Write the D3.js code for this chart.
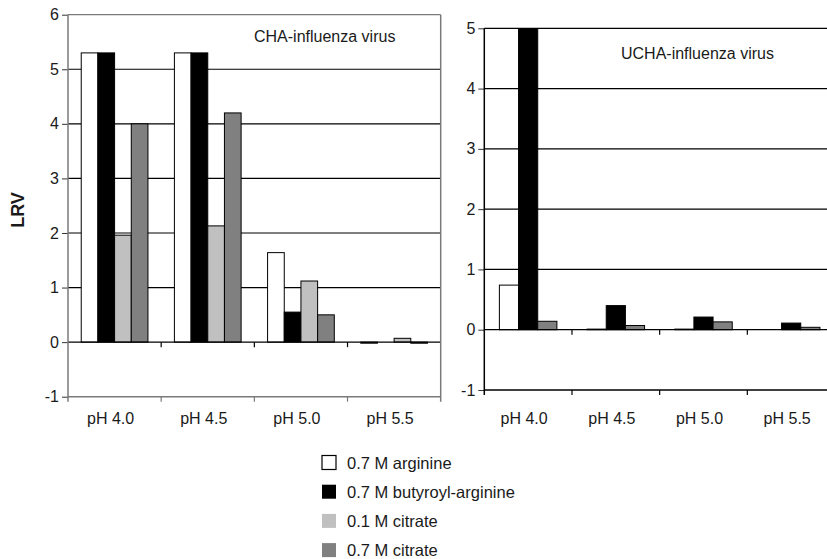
<!DOCTYPE html>
<html>
<head>
<meta charset="utf-8">
<script src="https://cdn.jsdelivr.net/npm/d3@7"></script>
<style>
  body { margin: 0; background: #fff; }
  text { font-family: "Liberation Sans", Arial, sans-serif; fill: #1a1a1a; }
</style>
</head>
<body>
<svg id="canvas" width="827" height="559"></svg>
<script>
// categories + series
let categories = ['pH 4.0', 'pH 4.5', 'pH 5.0', 'pH 5.5'];
let seriesNames = ['0.7 M arginine', '0.7 M butyroyl-arginine', '0.1 M citrate', '0.7 M citrate'];
let seriesColors = ['#ffffff', '#000000', '#c0c0c0', '#808080'];

// CHA-influenza virus (left panel)
let chaArginine = [5.3, 5.3, 1.64, -0.02];
let chaButyroyl = [5.3, 5.3, 0.55, 0];
let chaCitrate01 = [1.96, 2.13, 1.12, 0.07];
let chaCitrate07 = [4.0, 4.2, 0.5, -0.02];
let chaTicks = [-1, 0, 1, 2, 3, 4, 5, 6];

// UCHA-influenza virus (right panel), no 0.1 M citrate here
let uchaArginine = [0.74, 0.01, 0.01, 0];
let uchaButyroyl = [5.3, 0.4, 0.21, 0.11];
let uchaCitrate07 = [0.14, 0.07, 0.13, 0.04];
let uchaTicks = [-1, 0, 1, 2, 3, 4, 5];

let canvas = d3.select('#canvas');

let drawPanel = (p) => {
    let x = d3.scaleBand().domain(categories).range([p.x0, p.x1]).padding(0);
    let inner = d3.scaleBand().domain(p.series.map(s => s.name))
        .range([x.bandwidth() * p.pad, x.bandwidth() * (1 - p.pad)]).padding(0);
    let y = d3.scaleLinear().domain([p.ticks[0], p.ticks[p.ticks.length - 1]]).range([p.yBottom, p.yTop]);

    let g = canvas.append('g');

    // clip so the off-scale bar stops at the top
    g.append('clipPath').attr('id', p.id + '-clip')
        .append('rect').attr('x', p.x0).attr('y', p.yTop)
        .attr('width', p.x1 - p.x0).attr('height', p.yBottom - p.yTop);

    // gridlines (1..max)
    g.selectAll('.grid').data(p.ticks.filter(t => t > 0))
        .enter().append('line')
        .attr('x1', p.x0).attr('x2', p.x1)
        .attr('y1', d => y(d)).attr('y2', d => y(d))
        .attr('stroke', d => (d === p.ticks[p.ticks.length - 1] && p.frame) ? p.frame : '#000')
        .attr('stroke-width', 1.2);

    // bars
    let bars = g.append('g').attr('clip-path', 'url(#' + p.id + '-clip)');
    p.series.forEach((s) => {
        bars.selectAll(null).data(s.values)
            .enter().append('rect')
            .attr('x', (d, i) => x(categories[i]) + inner(s.name))
            .attr('width', inner.bandwidth())
            .attr('y', d => y(Math.max(0, d)))
            .attr('height', d => Math.abs(y(d) - y(0)))
            .attr('fill', s.color)
            .attr('stroke', '#000')
            .attr('stroke-width', 1);
    });

    let axisColor = p.frame || '#000';

    // zero line + category ticks
    g.append('line').attr('x1', p.x0).attr('x2', p.x1)
        .attr('y1', y(0)).attr('y2', y(0)).attr('stroke', '#000').attr('stroke-width', 1.2);
    // bottom line at -1
    g.append('line').attr('x1', p.x0).attr('x2', p.x1)
        .attr('y1', y(p.ticks[0])).attr('y2', y(p.ticks[0])).attr('stroke', axisColor).attr('stroke-width', 1.5);

    let bounds = categories.slice(1).map(c => x(c));
    [0, p.ticks[0]].forEach((v) => {
        g.selectAll(null).data(bounds).enter().append('line')
            .attr('x1', d => d).attr('x2', d => d)
            .attr('y1', y(v)).attr('y2', y(v) + 5)
            .attr('stroke', v === 0 ? '#000' : axisColor).attr('stroke-width', 1.2);
    });

    // frame (left panel only)
    if (p.frame) {
        g.append('line').attr('x1', p.x1).attr('x2', p.x1)
            .attr('y1', p.yTop).attr('y2', p.yBottom + 5)
            .attr('stroke', p.frame).attr('stroke-width', 1.5);
    }

    // y axis - plain hyphen for the minus like the original
    let yAxis = d3.axisLeft(y).tickValues(p.ticks).tickSize(6).tickPadding(3).tickFormat(d => String(d));
    let ya = g.append('g').attr('transform', 'translate(' + p.x0 + ',0)').call(yAxis);
    ya.select('.domain').remove();
    ya.selectAll('.tick line').attr('stroke', '#333');
    ya.selectAll('.tick text').style('font-size', '16px').attr('fill', '#1a1a1a');
    g.append('line').attr('x1', p.x0).attr('x2', p.x0)
        .attr('y1', p.yTop).attr('y2', p.yBottom + 5)
        .attr('stroke', axisColor).attr('stroke-width', 1.5);

    // category labels
    g.selectAll(null).data(categories).enter().append('text')
        .attr('x', d => x(d) + x.bandwidth() / 2 - 4)
        .attr('y', 424)
        .attr('text-anchor', 'middle')
        .style('font-size', '16px')
        .text(d => d);

    // panel title
    g.append('text').attr('x', p.titleX).attr('y', p.titleY)
        .style('font-size', '16px').text(p.title);
};

drawPanel({
    id: 'cha', x0: 68, x1: 440.7, yTop: 14.7, yBottom: 396.7, pad: 0.142,
    ticks: chaTicks, frame: '#7a7a7a',
    title: 'CHA-influenza virus', titleX: 254, titleY: 42,
    series: [
        { name: seriesNames[0], color: seriesColors[0], values: chaArginine },
        { name: seriesNames[1], color: seriesColors[1], values: chaButyroyl },
        { name: seriesNames[2], color: seriesColors[2], values: chaCitrate01 },
        { name: seriesNames[3], color: seriesColors[3], values: chaCitrate07 }
    ]
});

drawPanel({
    id: 'ucha', x0: 484.3, x1: 835, yTop: 28.3, yBottom: 390, pad: 0.172,
    ticks: uchaTicks, frame: null,
    title: 'UCHA-influenza virus', titleX: 621, titleY: 59,
    series: [
        { name: seriesNames[0], color: seriesColors[0], values: uchaArginine },
        { name: seriesNames[1], color: seriesColors[1], values: uchaButyroyl },
        { name: seriesNames[3], color: seriesColors[3], values: uchaCitrate07 }
    ]
});

// y axis title
canvas.append('text')
    .attr('transform', 'translate(24,210) rotate(-90)')
    .attr('text-anchor', 'middle')
    .style('font-size', '18px').style('font-weight', 'bold')
    .text('LRV');

// legend
let legend = canvas.append('g').attr('transform', 'translate(322,462.5)');
let legendRow = d3.scaleLinear().domain([0, 3]).range([0, 87.6]);
let items = legend.selectAll('g').data(seriesNames).enter().append('g')
    .attr('transform', (d, i) => 'translate(0,' + legendRow(i) + ')');
items.append('rect')
    .attr('x', 0).attr('y', -7).attr('width', 14).attr('height', 14)
    .attr('fill', (d, i) => seriesColors[i])
    .attr('stroke', (d, i) => i === 0 ? '#000' : 'none')
    .attr('stroke-width', 1.2);
items.append('text')
    .attr('x', 25).attr('y', 6)
    .style('font-size', '16.5px')
    .text(d => d);
</script>
</body>
</html>
